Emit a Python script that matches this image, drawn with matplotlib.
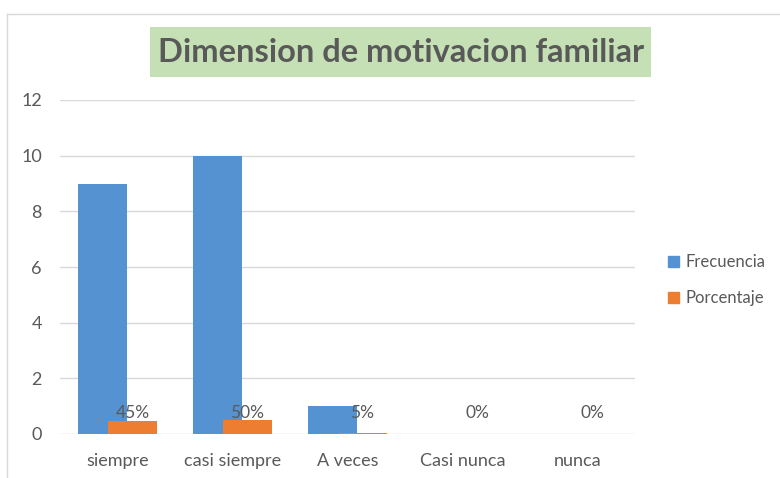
import numpy as np
import matplotlib.pyplot as plt
from matplotlib.patches import Rectangle
from matplotlib.lines import Line2D

# data
categorias = ['siempre', 'casi siempre', 'A veces', 'Casi nunca', 'nunca']
frecuencia = [9, 10, 1, 0, 0]
porcentaje = [0.45, 0.50, 0.05, 0.0, 0.0]
etiquetas_pct = ['45%', '50%', '5%', '0%', '0%']
y_ticks = [0, 2, 4, 6, 8, 10, 12]

plt.rcParams['font.family'] = ['Lato', 'DejaVu Sans']
gris = '#595959'
azul = '#5592D1'
naranja = '#ED7D31'

fig = plt.figure(figsize=(7.8, 4.78), dpi=100)
ax = fig.add_axes([60/780, 44/478, 575/780, 334/478])

x = np.arange(len(categorias))
w = 0.43
ax.bar(x - 0.13, frecuencia, w, color=azul, label='Frecuencia', zorder=3)
ax.bar(x + 0.13, porcentaje, w, color=naranja, label='Porcentaje', zorder=4)

for xi, lab in zip(x, etiquetas_pct):
    ax.text(xi + 0.13, 0.75, lab, ha='center', va='center', fontsize=12.5, color=gris, zorder=5)

ax.set_xlim(-0.5, len(categorias) - 0.5)
ax.set_ylim(0, 12)
ax.set_yticks(y_ticks)
ax.set_xticks(x)
ax.set_xticklabels(categorias)
ax.tick_params(length=0, labelsize=13, colors=gris)
ax.tick_params(axis='y', pad=13)
ax.tick_params(axis='x', pad=14)
ax.grid(axis='y', color='#D9D9D9', linewidth=1, zorder=0)
for s in ax.spines.values():
    s.set_visible(False)

# legend
handles = [Rectangle((0, 0), 1, 1, color=azul), Rectangle((0, 0), 1, 1, color=naranja)]
fig.legend(handles, ['Frecuencia', 'Porcentaje'], loc='center left', bbox_to_anchor=(668/780, 1 - 280/478),
           frameon=False, fontsize=12, labelcolor=gris, handlelength=0.65, handleheight=0.65,
           handletextpad=0.4, labelspacing=1.2, borderpad=0, borderaxespad=0)

# title with green box
fig.add_artist(Rectangle((150/780, 1 - 77/478), 501/780, 50/478, transform=fig.transFigure,
                         facecolor='#C5E0B4', edgecolor='none'))
fig.text(401/780, 1 - 52/478, 'Dimension de motivacion familiar', ha='center', va='center',
         fontsize=23.5, fontweight='bold', color=gris)

# chart frame lines
fig.add_artist(Line2D([7/780, 7/780], [0, 1 - 14/478], color='#D9D9D9', linewidth=1))
fig.add_artist(Line2D([7/780, 1], [1 - 14/478, 1 - 14/478], color='#D9D9D9', linewidth=1))

fig.savefig('out.png', dpi=100)
